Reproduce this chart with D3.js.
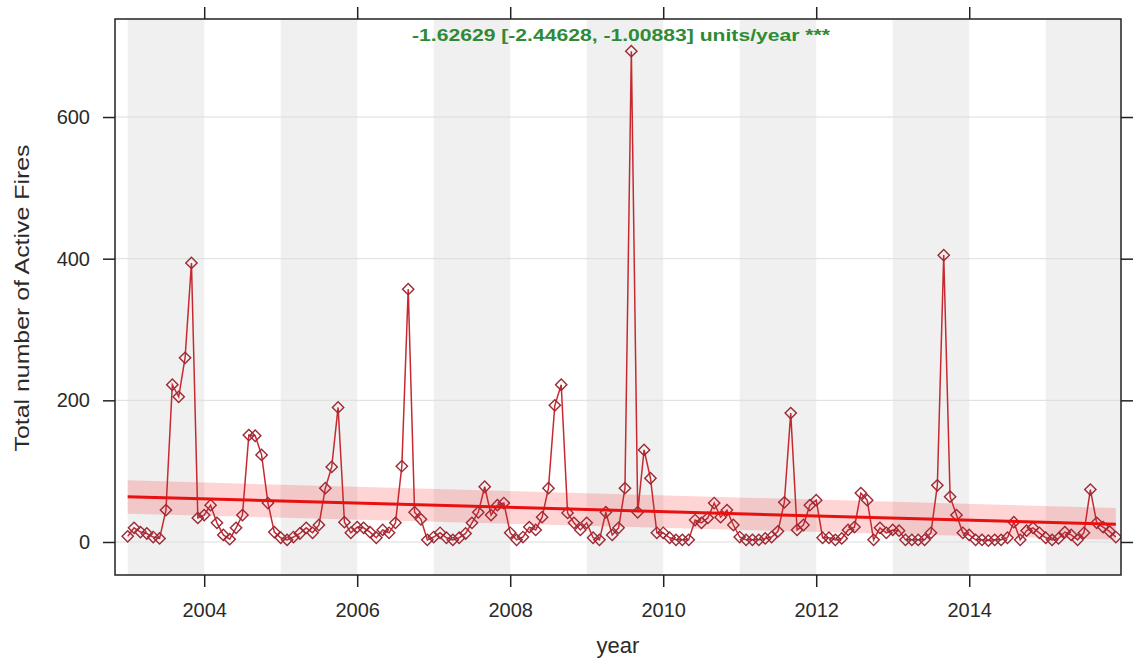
<!DOCTYPE html>
<html>
<head>
<meta charset="utf-8">
<script src="https://cdn.jsdelivr.net/npm/d3@7"></script>
<style>
  body { margin: 0; background: #fff; }
  text { font-family: "Liberation Sans", Arial, sans-serif; fill: #2a2a2a; }
</style>
</head>
<body>
<svg id="chart" width="1135" height="660"></svg>
<script>
// DATA: monthly totals, Jan 2003 .. Dec 2015
const startYear = 2003;
const fires = [
  8, 20, 14, 12, 7, 5, 45, 222, 205, 260, 394, 34,      // 2003
  38, 52, 27, 10, 4, 20, 38, 151, 150, 123, 55, 14,     // 2004
  6, 3, 7, 12, 20, 13, 24, 76, 106, 190, 28, 13,        // 2005
  21, 20, 14, 6, 17, 13, 27, 107, 357, 42, 32, 3,       // 2006
  7, 13, 6, 3, 6, 12, 27, 42, 78, 38, 52, 55,           // 2007
  13, 3, 7, 21, 17, 35, 76, 193, 222, 41, 27, 17,       // 2008
  27, 6, 3, 42, 10, 20, 76, 693, 42, 130, 90, 13,       // 2009
  13, 6, 3, 3, 3, 31, 27, 34, 55, 35, 45, 24,           // 2010
  7, 3, 3, 3, 5, 7, 15, 56, 182, 17, 24, 52,            // 2011
  59, 6, 6, 3, 5, 17, 21, 69, 59, 3, 20, 13,            // 2012
  17, 16, 3, 3, 3, 3, 13, 80, 405, 64, 38, 13,          // 2013
  10, 3, 3, 2, 3, 3, 6, 28, 3, 16, 20, 13,              // 2014
  6, 3, 5, 14, 10, 3, 13, 74, 27, 21, 15, 7             // 2015
];

// Theil-Sen trend (fit and 95% band at the first and last month)
const trendYears = [2003, 2015.917];
const trendFit = [64, 25];
const trendLower = [40, 3];
const trendUpper = [87, 48];
const trendLabel = "-1.62629 [-2.44628, -1.00883] units/year ***";

const xTicks = [2004, 2006, 2008, 2010, 2012, 2014];
const yTicks = [0, 200, 400, 600];
const bandYears = [2003, 2005, 2007, 2009, 2011, 2013, 2015];

// SETUP
const plot = { left: 115, right: 1121, top: 19, bottom: 575 };

const svg = d3.select("#chart");

const x = d3.scaleLinear()
    .domain([2002.834, 2015.984])
    .range([plot.left, plot.right]);

const y = d3.scaleLinear()
    .domain([-46.6, 738.4])
    .range([plot.bottom, plot.top]);

const data = fires.map((v, i) => ({ t: startYear + i / 12, v: v }));

svg.append("clipPath").attr("id", "clip")
  .append("rect")
    .attr("x", plot.left).attr("y", plot.top)
    .attr("width", plot.right - plot.left)
    .attr("height", plot.bottom - plot.top);

const g = svg.append("g").attr("clip-path", "url(#clip)");

// alternating year shading
g.selectAll(".band")
  .data(bandYears)
  .enter()
  .append("rect")
    .attr("x", d => x(d))
    .attr("y", plot.top)
    .attr("width", d => x(d + 1) - x(d))
    .attr("height", plot.bottom - plot.top)
    .attr("fill", "#f0f0f0");

// horizontal grid
g.selectAll(".grid")
  .data(yTicks)
  .enter()
  .append("line")
    .attr("x1", plot.left).attr("x2", plot.right)
    .attr("y1", d => y(d)).attr("y2", d => y(d))
    .attr("stroke", "#dcdcdc")
    .attr("stroke-width", 1);

// trend confidence band
const bandData = trendYears.map((t, i) => ({ t, lo: trendLower[i], hi: trendUpper[i] }));
g.append("path")
  .datum(bandData)
  .attr("d", d3.area().x(d => x(d.t)).y0(d => y(d.lo)).y1(d => y(d.hi)))
  .attr("fill", "#ff0000")
  .attr("fill-opacity", 0.17);

// monthly series
g.append("path")
  .datum(data)
  .attr("d", d3.line().x(d => x(d.t)).y(d => y(d.v)))
  .attr("fill", "none")
  .attr("stroke", "#c62a30")
  .attr("stroke-width", 1.5);

const diamond = d3.symbol().type(d3.symbolSquare).size(64);
g.selectAll(".pt")
  .data(data)
  .enter()
  .append("path")
    .attr("d", diamond)
    .attr("transform", d => `translate(${x(d.t)},${y(d.v)}) rotate(45)`)
    .attr("fill", "none")
    .attr("stroke", "#9c2a36")
    .attr("stroke-width", 1.4);

// trend line
const trendData = trendYears.map((t, i) => ({ t, v: trendFit[i] }));
g.append("path")
  .datum(trendData)
  .attr("d", d3.line().x(d => x(d.t)).y(d => y(d.v)))
  .attr("fill", "none")
  .attr("stroke", "#e81010")
  .attr("stroke-width", 3);

// AXES
const tickStyle = sel => {
  sel.select(".domain").remove();
  sel.selectAll(".tick line").attr("stroke", "#222").attr("stroke-width", 1.5);
  sel.selectAll(".tick text").style("font-size", "20px").attr("fill", "#2a2a2a");
};

svg.append("g")
  .attr("transform", `translate(0,${plot.bottom})`)
  .call(d3.axisBottom(x).tickValues(xTicks).tickFormat(d3.format("d"))
        .tickSize(12).tickPadding(16))
  .call(tickStyle);

svg.append("g")
  .attr("transform", `translate(0,${plot.top})`)
  .call(d3.axisTop(x).tickValues(xTicks).tickFormat("").tickSize(12))
  .call(tickStyle);

svg.append("g")
  .attr("transform", `translate(${plot.left},0)`)
  .call(d3.axisLeft(y).tickValues(yTicks).tickSize(12).tickPadding(13))
  .call(tickStyle);

svg.append("g")
  .attr("transform", `translate(${plot.right},0)`)
  .call(d3.axisRight(y).tickValues(yTicks).tickFormat("").tickSize(12))
  .call(tickStyle);

// frame
svg.append("rect")
  .attr("x", plot.left).attr("y", plot.top)
  .attr("width", plot.right - plot.left)
  .attr("height", plot.bottom - plot.top)
  .attr("fill", "none")
  .attr("stroke", "#222")
  .attr("stroke-width", 1.5);

// LABELS
svg.append("text")
  .attr("x", 621)
  .attr("y", 41)
  .attr("text-anchor", "middle")
  .attr("textLength", 418)
  .attr("lengthAdjust", "spacingAndGlyphs")
  .style("font-size", "17px")
  .style("font-weight", "bold")
  .style("fill", "#2f8a35")
  .text(trendLabel);

svg.append("text")
  .attr("x", (plot.left + plot.right) / 2)
  .attr("y", 653)
  .attr("text-anchor", "middle")
  .style("font-size", "22px")
  .text("year");

svg.append("text")
  .attr("transform", "rotate(-90)")
  .attr("x", -298)
  .attr("y", 29)
  .attr("text-anchor", "middle")
  .attr("textLength", 307)
  .attr("lengthAdjust", "spacingAndGlyphs")
  .style("font-size", "21px")
  .text("Total number of Active Fires");
</script>
</body>
</html>
